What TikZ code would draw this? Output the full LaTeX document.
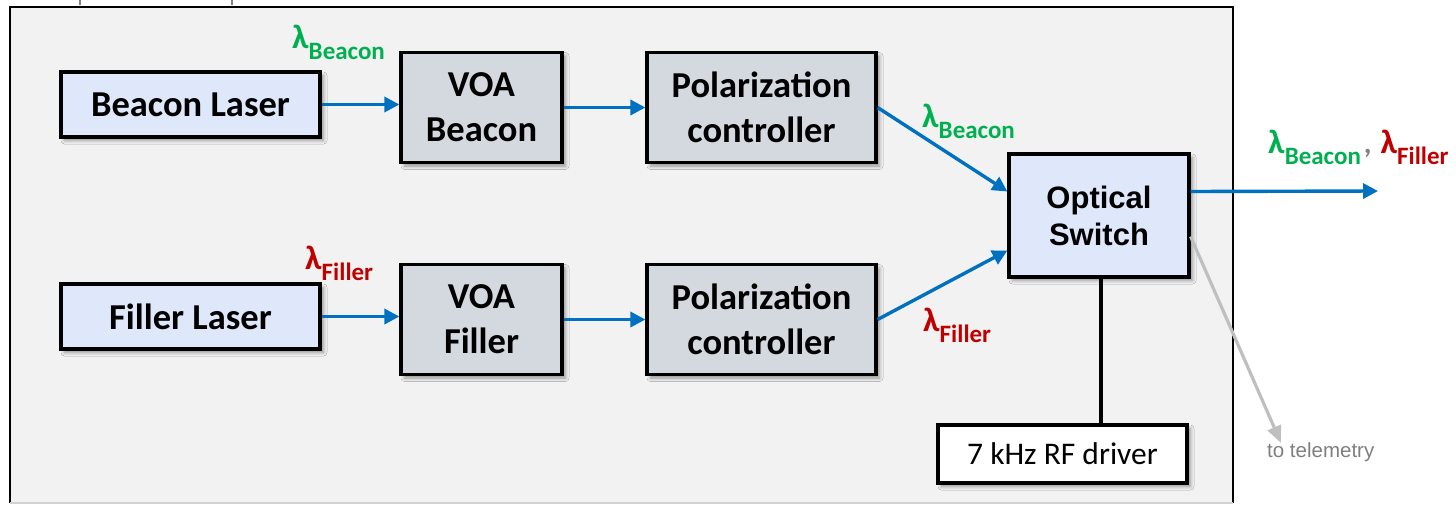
\documentclass[tikz,border=0pt]{standalone}
\usepackage{fontspec}
\setmainfont{Carlito}
\newfontfamily\arialfont{Liberation Sans}
\usetikzlibrary{arrows.meta,calc,shadows.blur}

\definecolor{panelfill}{HTML}{F2F2F2}
\definecolor{srcfill}{HTML}{DFE8FB}
\definecolor{devfill}{HTML}{D4D8DF}
\definecolor{fiber}{HTML}{0070C0}
\definecolor{beaconcol}{HTML}{00B050}
\definecolor{fillercol}{HTML}{C00000}
\definecolor{telegray}{HTML}{BFBFBF}
\definecolor{teletext}{HTML}{7F7F7F}

% wavelength tag: bold lambda with a lowered subscript word
\newcommand{\wavetag}[1]{{\fontsize{34}{34}\selectfont\bfseries λ}\raisebox{-11pt}{\fontsize{25}{25}\selectfont\bfseries #1}}

\tikzset{
  softshadow/.style={blur shadow={shadow xshift=3.5pt, shadow yshift=-3.5pt,
      shadow blur steps=6, shadow blur radius=3.5pt, shadow opacity=40}},
  block/.style={draw=black, line width=3.2pt, align=center, inner sep=0pt,
      font=\fontsize{36.5}{45}\selectfont\bfseries, softshadow},
  srcblock/.style={block, fill=srcfill},
  devblock/.style={block, fill=devfill},
  switchblock/.style={block, fill=srcfill,
      font=\arialfont\fontsize{31}{37}\selectfont\bfseries},
  driverblock/.style={block, fill=white, font=\fontsize{31.5}{37}\selectfont},
  fiberline/.style={draw=fiber, line width=3.4pt,
      -{Triangle[length=15pt,width=15pt]}},
  teleline/.style={draw=telegray, line width=3.2pt,
      -{Triangle[length=17pt,width=14pt]}},
  wavelabel/.style={anchor=base west, inner sep=0pt},
}

\begin{document}
\begin{tikzpicture}[x=1pt,y=-1pt]
  \useasboundingbox (0,0) rectangle (1456,504);

  % panel
  \fill[panelfill] (10,7) rectangle (1233,503);
  \draw[black, line width=2.6pt] (10,503) -- (10,7) -- (1233,7) -- (1233,503);
  \draw[telegray!70, line width=1.5pt] (10,503) -- (1233,503);
  \draw[gray, line width=2pt] (80,0) -- (80,5);
  \draw[gray, line width=2pt] (232,0) -- (232,5);

  % blocks
  \node[srcblock, minimum width=259pt, minimum height=65pt] (bl) at (190.5,104.5) {Beacon Laser};
  \node[devblock, minimum width=161pt, minimum height=110pt] (vb) at (481.5,107.5) {VOA\\Beacon};
  \node[devblock, minimum width=229pt, minimum height=110pt] (pb) at (761.5,107.5) {Polarization\\controller};

  \node[srcblock, minimum width=259pt, minimum height=65pt] (fl) at (190.5,316.5) {Filler Laser};
  \node[devblock, minimum width=161pt, minimum height=110pt] (vf) at (481.5,319.5) {VOA\\Filler};
  \node[devblock, minimum width=229pt, minimum height=110pt] (pf) at (761.5,319.5) {Polarization\\controller};

  \node[switchblock, minimum width=180pt, minimum height=123pt] (sw) at (1099,215.5) {Optical\\Switch};
  \node[driverblock, minimum width=249pt, minimum height=58pt] (rf) at (1062.5,454) {7 kHz RF driver};

  % free ends
  \coordinate (out) at (1378,191);
  \coordinate (tele) at (1281,443);

  % optical paths
  \draw[fiberline] (bl.east) -- (vb.west |- bl.east);
  \draw[fiberline] (vb.east) -- (pb.west);
  \draw[fiberline] (fl.east) -- (vf.west |- fl.east);
  \draw[fiberline] (vf.east) -- (pf.west);
  \draw[fiberline] (pb.east) -- ($(sw.west)+(0,-24)$);
  \draw[fiberline] (pf.east) -- ($(sw.west)+(0,35)$);
  \draw[fiberline] ($(sw.east)+(0,-24)$) -- (out);
  \draw[teleline] ($(sw.east)+(0,21)$) -- (tele);

  % drive signal
  \draw[black, line width=3.6pt] ($(sw.south)+(2,0)$) -- ($(sw.south |- rf.north)+(2,0)$);

  % wavelength labels
  \node[wavelabel, text=beaconcol] (lb1) at (292,48) {\wavetag{Beacon}};
  \node[wavelabel, text=beaconcol] (lb2) at (922,127) {\wavetag{Beacon}};
  \node[wavelabel, text=fillercol] (lf1) at (305,269) {\wavetag{Filler}};
  \node[wavelabel, text=fillercol] (lf2) at (923,331) {\wavetag{Filler}};
  \node[wavelabel] (lout) at (1268,153) {\textcolor{beaconcol}{\wavetag{Beacon}}\hspace{3pt}\textcolor{gray}{\fontsize{30}{30}\selectfont\bfseries ,}\hspace{9pt}\textcolor{fillercol}{\wavetag{Filler}}};

  \node[anchor=base west, inner sep=0pt, text=teletext, font=\arialfont\fontsize{20.5}{24}\selectfont] (tt) at (1267,457) {to telemetry};
\end{tikzpicture}
\end{document}
